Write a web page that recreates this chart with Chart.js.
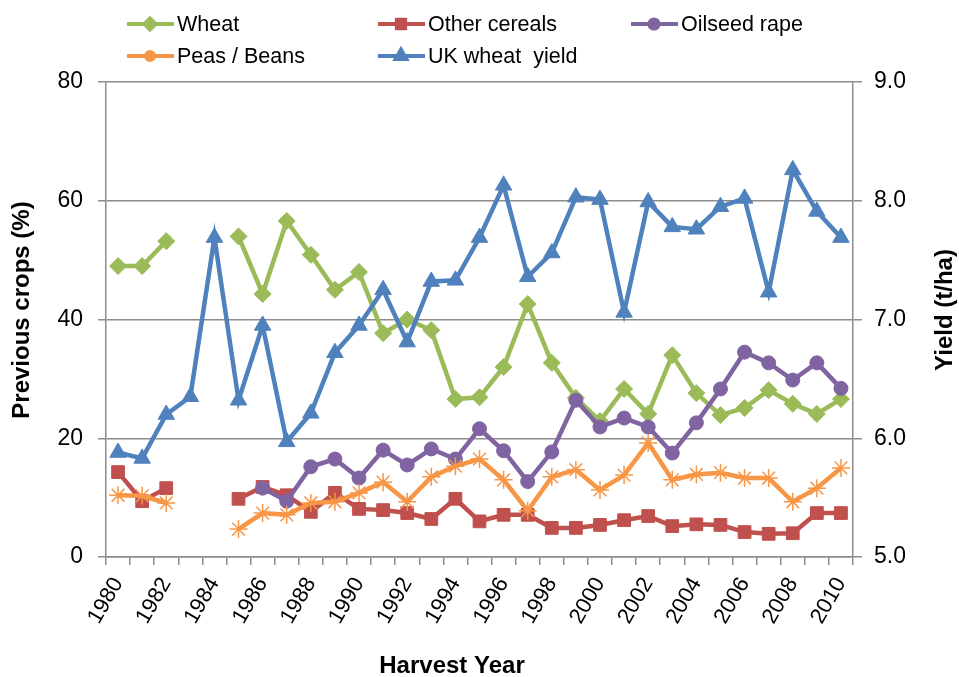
<!DOCTYPE html>
<html>
<head>
<meta charset="utf-8">
<script src="https://cdn.jsdelivr.net/npm/chart.js@4"></script>
<style>
  html, body { margin: 0; padding: 0; background: #fff; }
  #wrap { width: 959px; height: 677px; position: relative; }
</style>
</head>
<body>
<div id="wrap"><canvas id="cropChart" width="959" height="677"></canvas></div>
<script>
// Harvest years (categories)
const years = ["1980","1981","1982","1983","1984","1985","1986","1987","1988","1989",
  "1990","1991","1992","1993","1994","1995","1996","1997","1998","1999",
  "2000","2001","2002","2003","2004","2005","2006","2007","2008","2009","2010"];

// Previous crops (%)
const wheat = [49, 49, 53.2, null, null, 54, 44.3, 56.6, 50.9, 45, 48, 37.7, 40, 38.2, 26.6,
  26.9, 32, 42.6, 32.7, 26.8, 22.9, 28.3, 24.1, 34, 27.6, 23.9, 25.1, 28.1, 25.8, 24.1, 26.6];
const otherCereals = [14.3, 9.4, 11.6, null, null, 9.8, 11.8, 10.4, 7.6, 10.8, 8.1, 7.9, 7.4, 6.4, 9.8,
  6.0, 7.1, 7.1, 4.9, 4.9, 5.4, 6.2, 6.9, 5.2, 5.5, 5.4, 4.2, 3.9, 4.0, 7.4, 7.4];
const oilseedRape = [null, null, null, null, null, null, 11.6, 9.4, 15.2, 16.5, 13.3, 18.0, 15.5, 18.2, 16.5,
  21.6, 17.9, 12.7, 17.7, 26.4, 21.9, 23.4, 21.9, 17.5, 22.6, 28.3, 34.5, 32.7, 29.8, 32.7, 28.4];
const peasBeans = [10.4, 10.3, 9.1, null, null, 4.7, 7.4, 7.1, 9.1, 9.3, 10.8, 12.6, 9.3, 13.5, 15.3,
  16.5, 13.0, 7.8, 13.5, 14.7, 11.3, 13.8, 19.2, 13.0, 13.9, 14.2, 13.3, 13.3, 9.3, 11.6, 15.0];

// UK wheat yield (t/ha)
const wheatYield = [5.88, 5.83, 6.20, 6.35, 7.69, 6.32, 6.95, 5.97, 6.21, 6.72, 6.95, 7.25, 6.81, 7.32, 7.33,
  7.69, 8.13, 7.36, 7.56, 8.03, 8.01, 7.06, 7.99, 7.78, 7.76, 7.95, 8.02, 7.23, 8.26, 7.91, 7.69];

const FONT = "'Liberation Sans', Arial, sans-serif";
const GRID = "#8c8c8c";

// legend slots laid out like the original (two rows, three columns)
const legendSlots = [[127, 24], [378, 24], [631, 24], [127, 56], [378, 56]];

// axis titles: text, centre x, centre y, rotation
const axisTitles = [
    ["Previous crops (%)", 22, 310, -Math.PI / 2],
    ["Yield (t/ha)", 945, 310, -Math.PI / 2],
    ["Harvest Year", 452, 666, 0]
];

const boxLegend = {
    id: "boxLegend",
    afterDraw(chart) {
        const ctx = chart.ctx;
        ctx.save();
        chart.data.datasets.forEach((ds, i) => {
            const [x, y] = legendSlots[i];
            ctx.strokeStyle = ds.borderColor;
            ctx.lineWidth = 4;
            ctx.beginPath();
            ctx.moveTo(x, y);
            ctx.lineTo(x + 47, y);
            ctx.stroke();
            ctx.fillStyle = ds.pointBackgroundColor;
            ctx.strokeStyle = ds.pointBorderColor;
            Chart.helpers.drawPoint(ctx, {
                pointStyle: ds.pointStyle,
                radius: ds.pointRadius * 0.65,
                rotation: 0,
                borderWidth: ds.pointBorderWidth
            }, x + 23, y);
            ctx.fillStyle = "#000";
            ctx.font = "21.5px " + FONT;
            ctx.textAlign = "left";
            ctx.textBaseline = "middle";
            ctx.fillText(ds.label, x + 50, y + 1);
        });

        // axis titles, placed where the original has them
        ctx.fillStyle = "#000";
        ctx.font = "bold 24px " + FONT;
        ctx.textAlign = "center";
        ctx.textBaseline = "middle";
        axisTitles.forEach(([text, x, y, rot]) => {
            ctx.save();
            ctx.translate(x, y);
            ctx.rotate(rot);
            ctx.fillText(text, 0, 0);
            ctx.restore();
        });
        ctx.restore();
    }
};

function series(label, data, color, style, radius, axis, order) {
    return {
        label: label,
        data: data,
        yAxisID: axis,
        order: order,
        borderColor: color,
        backgroundColor: color,
        borderWidth: 4.5,
        pointStyle: style,
        pointRadius: radius,
        pointHoverRadius: radius,
        pointBackgroundColor: color,
        pointBorderColor: color,
        pointBorderWidth: style === "star" ? 1.5 : 1,
        spanGaps: false,
        tension: 0
    };
}

const ctx = document.getElementById("cropChart").getContext("2d");
new Chart(ctx, {
    type: "line",
    data: {
        labels: years,
        datasets: [
            series("Wheat", wheat, "#9bbb59", "rectRot", 8.5, "y", 4),
            series("Other cereals", otherCereals, "#c0504d", "rect", 9, "y", 3),
            series("Oilseed rape", oilseedRape, "#8064a2", "circle", 7, "y", 2),
            series("Peas / Beans", peasBeans, "#f79646", "star", 9, "y", 1),
            series("UK wheat  yield", wheatYield, "#4f81bd", "triangle", 9.5, "y1", 0)
        ]
    },
    options: {
        responsive: false,
        animation: false,
        layout: { padding: { top: 82, left: 0, right: 0, bottom: 0 } },
        plugins: {
            legend: { display: false },
            tooltip: { enabled: false }
        },
        scales: {
            x: {
                offset: true,
                grid: {
                    offset: true,
                    drawOnChartArea: false,
                    drawTicks: true,
                    tickLength: 8,
                    color: GRID,
                    lineWidth: 1.5
                },
                border: { color: GRID, width: 1.5 },
                ticks: {
                    autoSkip: false,
                    minRotation: 60,
                    maxRotation: 60,
                    padding: 8,
                    color: "#000",
                    font: { family: FONT, size: 22 },
                    callback: function (val, idx) {
                        return idx % 2 === 0 ? this.getLabelForValue(val) : "";
                    }
                },
                afterFit: function (scale) { scale.height = 120; }
            },
            y: {
                position: "left",
                min: 0,
                max: 80,
                ticks: {
                    stepSize: 20,
                    padding: 15,
                    color: "#000",
                    font: { family: FONT, size: 23 }
                },
                grid: { color: GRID, lineWidth: 1.5, tickLength: 8 },
                border: { color: GRID, width: 1.5 },
                afterFit: function (scale) { scale.width = 106; }
            },
            y1: {
                position: "right",
                min: 5,
                max: 9,
                ticks: {
                    stepSize: 1,
                    padding: 12,
                    color: "#000",
                    font: { family: FONT, size: 23 },
                    callback: v => v.toFixed(1)
                },
                grid: { drawOnChartArea: false, color: GRID, lineWidth: 1.5, tickLength: 9 },
                border: { color: GRID, width: 1.5 },
                afterFit: function (scale) { scale.width = 106; }
            }
        }
    },
    plugins: [boxLegend]
});
</script>
</body>
</html>
